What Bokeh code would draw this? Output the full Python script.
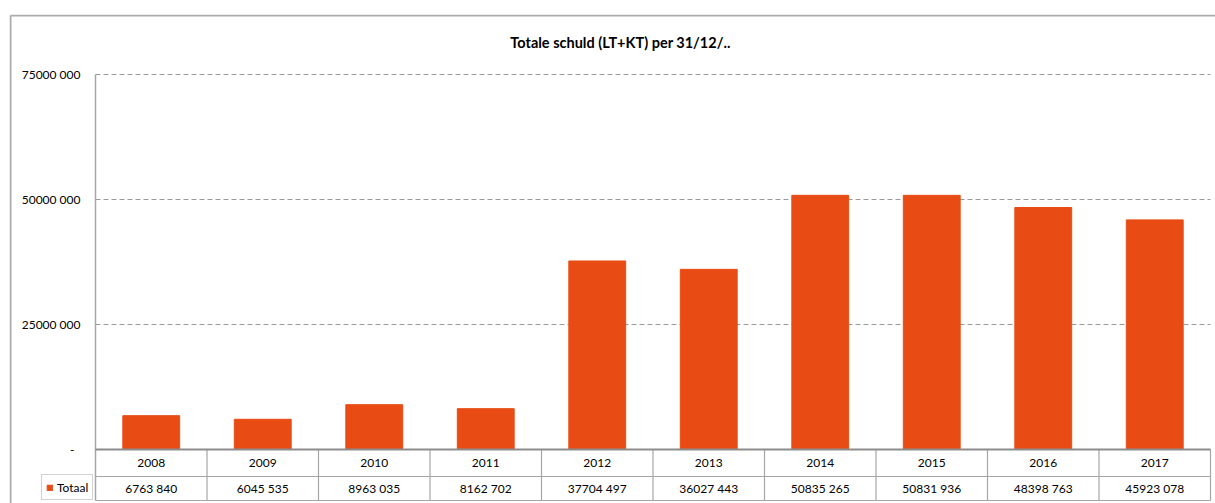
from bokeh.plotting import figure
from bokeh.models import ColumnDataSource, FixedTicker, Range1d, Label
from bokeh.core.properties import value
from bokeh.embed import file_html
from bokeh.resources import INLINE

# ---- data ----
years = ["2008", "2009", "2010", "2011", "2012", "2013", "2014", "2015", "2016", "2017"]
totals = [6763840, 6045535, 8963035, 8162702, 37704497, 36027443,
          50835265, 50831936, 48398763, 45923078]
total_labels = ["6763 840", "6045 535", "8963 035", "8162 702", "37704 497",
                "36027 443", "50835 265", "50831 936", "48398 763", "45923 078"]
y_ticks = [0, 25000000, 50000000, 75000000]
y_tick_labels = ["-\u00a0\u00a0", "25000 000", "50000 000", "75000 000"]
series_name = "Totaal"
title_text = "Totale schuld (LT+KT) per 31/12/.."

# ---- styling / layout ----
BAR = "#E84C14"
GRID = "#9a9a9a"
LINE = "#a6a6a6"
BORDER = "#ababab"
FONT = "Lato"
W, H = 1215, 503
FRAME_L, FRAME_T = 9, 14          # frame origin on the canvas (px)
AXIS_X, ZERO_Y = 95, 449          # value axis position / zero line (px)
PX = 200000.0                     # data units per pixel (y)
CAT_PX = 111.5                    # pixels per category (x)
LEFT = -(AXIS_X - FRAME_L) / CAT_PX
RIGHT = (W - AXIS_X) / CAT_PX
TOP = (ZERO_Y - FRAME_T) * PX
BOTTOM = -(H - ZERO_Y) * PX
ROW1_BOTTOM = -27 * PX
TABLE_BOTTOM = -51 * PX

n = len(years)
xs = [i + 0.5 for i in range(n)]  # category centres

p = figure(x_range=Range1d(LEFT, RIGHT), y_range=Range1d(BOTTOM, TOP),
           width=W, height=H,
           output_backend="svg", toolbar_location=None,
           x_axis_location=None,
           min_border_left=FRAME_L, min_border_top=FRAME_T,
           min_border_right=0, min_border_bottom=0)
p.title.visible = False
p.outline_line_color = None
p.background_fill_color = "white"
p.border_fill_color = "white"
p.xgrid.visible = False
p.ygrid.visible = False

# y axis (labels sit left of the value axis line, inside the chart box)
yax = p.yaxis[0]
yax.ticker = FixedTicker(ticks=y_ticks)
yax.major_label_overrides = {t: l for t, l in zip(y_ticks, y_tick_labels)}
yax.major_tick_out = 0
yax.major_tick_in = 0
yax.minor_tick_out = 0
yax.minor_tick_in = 0
yax.axis_line_color = None
yax.major_label_standoff = -(80 - FRAME_L)
yax.major_label_text_font = FONT
yax.major_label_text_font_size = "12px"
yax.major_label_text_color = "black"

# outer chart border (top & left)
bx = LEFT + 1 / CAT_PX
by = TOP - 1 * PX
p.segment(x0=[bx, bx], x1=[bx, RIGHT], y0=[BOTTOM, by], y1=[by, by],
          line_color=BORDER, line_width=2)

# dashed gridlines
gy = y_ticks[1:]
p.segment(x0=[0] * len(gy), x1=[n] * len(gy), y0=gy, y1=gy,
          line_color=GRID, line_width=1, line_dash="5 3")

# value axis line
p.segment(x0=[0], x1=[0], y0=[TABLE_BOTTOM], y1=[y_ticks[-1]], line_color=LINE, line_width=1.5)

# bars
src = ColumnDataSource(dict(x=xs, year=years, total=totals, label=total_labels))
p.vbar(x="x", top="total", width=0.51, source=src,
       fill_color=BAR, line_color=BAR, legend_label=series_name)

# data table lines
bounds = list(range(1, n + 1))
p.segment(x0=bounds, x1=bounds, y0=[0] * len(bounds), y1=[TABLE_BOTTOM] * len(bounds),
          line_color=LINE, line_width=1.2)
p.segment(x0=[0, 0], x1=[n, n], y0=[ROW1_BOTTOM, TABLE_BOTTOM],
          y1=[ROW1_BOTTOM, TABLE_BOTTOM], line_color=LINE, line_width=1.2)
p.segment(x0=[0], x1=[n], y0=[0], y1=[0], line_color="#8c8c8c", line_width=2)

# table text
p.text(x="x", y=ROW1_BOTTOM / 2, text="year", source=src,
       text_align="center", text_baseline="middle",
       text_font=value(FONT), text_font_size="12px", text_color="black")
p.text(x="x", y=(ROW1_BOTTOM + TABLE_BOTTOM) / 2, text="label", source=src,
       text_align="center", text_baseline="middle",
       text_font=value(FONT), text_font_size="12px", text_color="black")

# title
p.add_layout(Label(x=(620 - AXIS_X) / CAT_PX, y=y_ticks[-1] + 32 * PX, text=title_text,
                   text_align="center", text_baseline="middle",
                   text_font=FONT, text_font_style="bold", text_font_size="14.5px",
                   text_color="black"))

# legend cell ("Totaal" key of the data table)
leg = p.legend[0]
leg.location = (41 - FRAME_L, H - 500)
leg.orientation = "horizontal"
leg.border_line_color = LINE
leg.border_line_width = 1.2
leg.background_fill_color = "white"
leg.background_fill_alpha = 1
leg.padding = 4
leg.margin = 0
leg.glyph_width = 7
leg.glyph_height = 7
leg.label_standoff = 4
leg.label_height = 16
leg.label_text_font = FONT
leg.label_text_font_size = "12px"
leg.label_text_color = "black"
leg.click_policy = "none"

open("out.html", "w").write(file_html(p, INLINE))
